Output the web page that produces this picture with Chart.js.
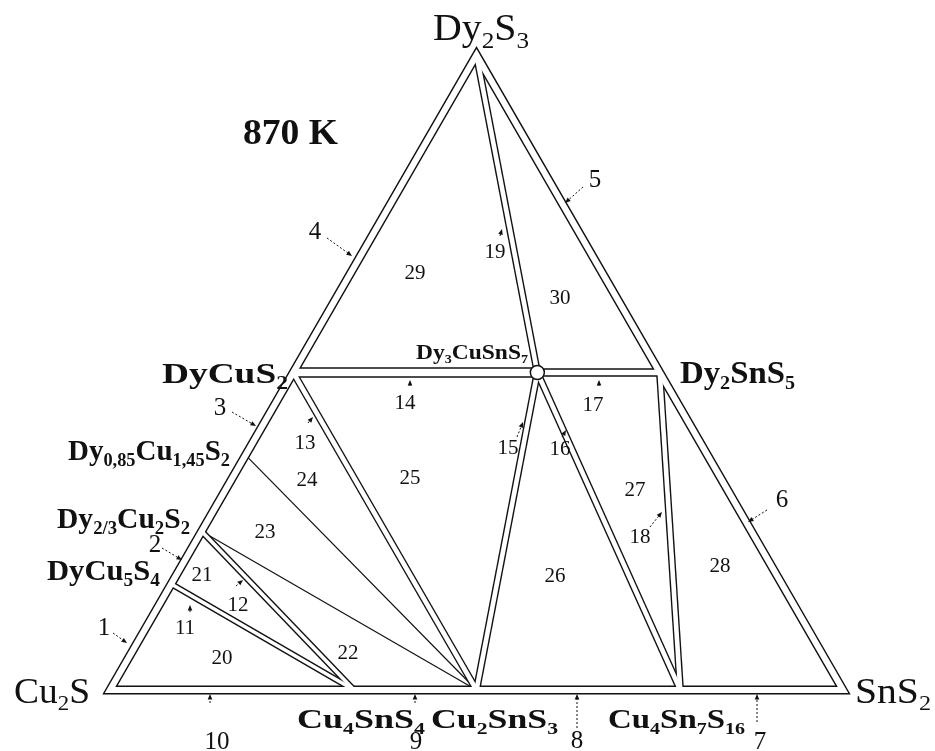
<!DOCTYPE html>
<html>
<head>
<meta charset="utf-8">
<script src="https://cdn.jsdelivr.net/npm/chart.js@4.4.1/dist/chart.umd.min.js"></script>
<style>
    html, body { margin: 0; padding: 0; background: #ffffff; }
    #wrap { width: 935px; height: 751px; position: relative; }
</style>
</head>
<body>
<div id="wrap"><canvas id="phaseChart"></canvas></div>
<script>
// Phases of the Cu2S - SnS2 - Dy2S3 system, composition in mol % (rest is Cu2S)
const phaseNames = ['Cu2S', 'SnS2', 'Dy2S3', 'Cu4SnS4', 'Cu2SnS3', 'Cu4Sn7S16',
    'DyCuS2', 'Dy3CuSnS7', 'Dy2SnS5', 'Dy0.85Cu1.45S2', 'Dy2/3Cu2S2', 'DyCu5S4'];
const snS2Pct = [0, 100, 0, 33.3, 50, 77.8, 0, 33.3, 50, 0, 0, 0];
const dy2S3Pct = [0, 0, 100, 0, 0, 0, 50, 50, 50, 37, 25, 16.7];

// Triangle sides (drawn as narrow double lines)
const sidePath = ['Cu2S', 'Dy2S3', 'SnS2', 'Cu2S', 'Dy2S3'];

// Narrow two-phase regions (double lines) between phases
const doubleTies = [
    ['Dy2S3', 'Dy3CuSnS7'],
    ['DyCuS2', 'Dy3CuSnS7'],
    ['Dy3CuSnS7', 'Dy2SnS5'],
    ['DyCuS2', 'Cu2SnS3'],
    ['Dy3CuSnS7', 'Cu2SnS3'],
    ['Dy3CuSnS7', 'Cu4Sn7S16'],
    ['Dy2SnS5', 'Cu4Sn7S16'],
    ['Dy2/3Cu2S2', 'Cu4SnS4'],
    ['DyCu5S4', 'Cu4SnS4']
];

// Simple tie lines
const singleTies = [
    ['Dy0.85Cu1.45S2', 'Cu2SnS3'],
    ['Dy2/3Cu2S2', 'Cu2SnS3']
];

// Marked phase
const ringPhases = ['Dy3CuSnS7'];

// ---- styling ----
const INK = '#111111';
const STROKE = 1.4;
const sideGap = 7.5;
const tieGaps = [6, 9, 7, 6, 6, 6, 6, 5, 5];

function point(name) {
    const i = phaseNames.indexOf(name);
    return { x: snS2Pct[i] + dy2S3Pct[i] / 2, y: dy2S3Pct[i] };
}

function lineSet(names, width, color, order) {
    return {
        data: names.map(point),
        showLine: true,
        borderColor: color,
        borderWidth: width,
        borderJoinStyle: 'miter',
        borderCapStyle: 'butt',
        pointRadius: 0,
        pointHoverRadius: 0,
        tension: 0,
        clip: false,
        order: order
    };
}

const datasets = [];
// ring marks on top
datasets.push({
    data: ringPhases.map(point),
    pointRadius: 7,
    pointHoverRadius: 7,
    pointBackgroundColor: '#ffffff',
    pointBorderColor: INK,
    pointBorderWidth: 1.5,
    clip: false,
    order: 0
});
// white inner channel of the double lines
datasets.push(lineSet(sidePath, sideGap - STROKE, '#ffffff', 1));
doubleTies.forEach((t, i) => datasets.push(lineSet(t, tieGaps[i] - STROKE, '#ffffff', 1)));
// simple tie lines
singleTies.forEach(t => datasets.push(lineSet(t, 1.2, INK, 2)));
// black outer walls of the double lines
datasets.push(lineSet(sidePath, sideGap + STROKE, INK, 3));
doubleTies.forEach((t, i) => datasets.push(lineSet(t, tieGaps[i] + STROKE, INK, 3)));

// ---- annotation text ----
const SERIF = '"Liberation Serif", "Times New Roman", serif';

// [formula, left, baseline, size, bold, width]
const formulaLabels = [
    ['Dy{2}S{3}', 433, 40, 38, false, 96],
    ['870 K', 243, 144, 36, true, 95],
    ['DyCuS{2}', 162, 383, 30, true, 126],
    ['Dy{3}CuSnS{7}', 416, 359, 20, true, 112],
    ['Dy{2}SnS{5}', 680, 383, 31, true, 115],
    ['Dy{0,85}Cu{1,45}S{2}', 68, 460, 30, true, 162],
    ['Dy{2/3}Cu{2}S{2}', 57, 528, 30, true, 133],
    ['DyCu{5}S{4}', 47, 580, 30, true, 113],
    ['Cu{2}S', 14, 703, 36, false, 76],
    ['SnS{2}', 855, 703, 36, false, 76],
    ['Cu{4}SnS{4}', 297, 728, 28, true, 128],
    ['Cu{2}SnS{3}', 431, 728, 28, true, 127],
    ['Cu{4}Sn{7}S{16}', 608, 728, 28, true, 137]
];

// [text, x, y, size]
const numberLabels = [
    ['1', 104, 628, 25], ['2', 155, 545, 25], ['3', 220, 408, 25], ['4', 315, 232, 25],
    ['5', 595, 180, 25], ['6', 782, 500, 25], ['7', 760, 742, 25], ['8', 577, 741, 25],
    ['9', 416, 742, 25], ['10', 217, 742, 25],
    ['11', 185, 628, 21], ['12', 238, 605, 21], ['13', 305, 443, 21], ['14', 405, 403, 21],
    ['15', 508, 448, 21], ['16', 560, 449, 21], ['17', 593, 405, 21], ['18', 640, 537, 21],
    ['19', 495, 252, 21], ['20', 222, 658, 21], ['21', 202, 575, 21], ['22', 348, 653, 21],
    ['23', 265, 532, 21], ['24', 307, 480, 21], ['25', 410, 478, 21], ['26', 555, 576, 21],
    ['27', 635, 490, 21], ['28', 720, 566, 21], ['29', 415, 273, 21], ['30', 560, 298, 21]
];

// [x1, y1, x2, y2] dotted pointers, head at the second point
const pointers = [
    [113, 633, 127, 643], [162, 548, 182, 560], [232, 412, 256, 426], [327, 238, 352, 256],
    [583, 187, 565, 203], [767, 510, 748, 522], [757, 722, 757, 694], [577, 728, 577, 694],
    [415, 703, 415, 694], [210, 703, 210, 694],
    [190, 612, 190, 605], [236, 586, 243, 580], [308, 423, 313, 417], [410, 386, 410, 380],
    [517, 437, 523, 422], [562, 437, 566, 430], [599, 386, 599, 380], [650, 527, 662, 512],
    [500, 236, 502, 229]
];

function drawFormula(ctx, text, left, base, size, bold, width) {
    const parts = [];
    text.replace(/([^{}]+)|\{([^}]*)\}/g, (m, norm, sub) => {
        parts.push(norm !== undefined ? { t: norm, sub: false } : { t: sub, sub: true });
        return m;
    });
    const font = s => (bold ? 'bold ' : '') + s + 'px ' + SERIF;
    const subSize = Math.round(size * 0.62);
    let natural = 0;
    parts.forEach(p => {
        ctx.font = font(p.sub ? subSize : size);
        p.w = ctx.measureText(p.t).width;
        natural += p.w;
    });
    const sx = width ? width / natural : 1;
    ctx.save();
    ctx.translate(left, base);
    ctx.scale(sx, 1);
    ctx.textAlign = 'left';
    ctx.textBaseline = 'alphabetic';
    let x = 0;
    parts.forEach(p => {
        ctx.font = font(p.sub ? subSize : size);
        ctx.fillText(p.t, x, p.sub ? size * 0.2 : 0);
        x += p.w;
    });
    ctx.restore();
}

const annotations = {
    id: 'annotations',
    afterDraw(chart) {
        const ctx = chart.ctx;
        ctx.save();
        ctx.fillStyle = INK;
        ctx.strokeStyle = INK;

        formulaLabels.forEach(l => drawFormula(ctx, ...l));

        ctx.textAlign = 'center';
        ctx.textBaseline = 'middle';
        numberLabels.forEach(([t, x, y, s]) => {
            ctx.font = s + 'px ' + SERIF;
            ctx.fillText(t, x, y);
        });

        pointers.forEach(([x1, y1, x2, y2]) => {
            const a = Math.atan2(y2 - y1, x2 - x1);
            ctx.lineWidth = 1;
            ctx.setLineDash([2, 2]);
            ctx.beginPath();
            ctx.moveTo(x1, y1);
            ctx.lineTo(x2 - 3 * Math.cos(a), y2 - 3 * Math.sin(a));
            ctx.stroke();
            ctx.setLineDash([]);
            ctx.beginPath();
            ctx.moveTo(x2, y2);
            ctx.lineTo(x2 - 6 * Math.cos(a - 0.4), y2 - 6 * Math.sin(a - 0.4));
            ctx.lineTo(x2 - 6 * Math.cos(a + 0.4), y2 - 6 * Math.sin(a + 0.4));
            ctx.closePath();
            ctx.fill();
        });
        ctx.restore();
    }
};

new Chart(document.getElementById('phaseChart').getContext('2d'), {
    type: 'scatter',
    data: { datasets: datasets },
    options: {
        responsive: true,
        maintainAspectRatio: false,
        devicePixelRatio: 1,
        animation: false,
        events: [],
        layout: { padding: { left: 110, right: 92, top: 55, bottom: 61 } },
        plugins: {
            legend: { display: false },
            tooltip: { enabled: false }
        },
        scales: {
            x: { type: 'linear', display: false, min: 0, max: 100 },
            y: { type: 'linear', display: false, min: 0, max: 100 }
        }
    },
    plugins: [annotations]
});
</script>
</body>
</html>
